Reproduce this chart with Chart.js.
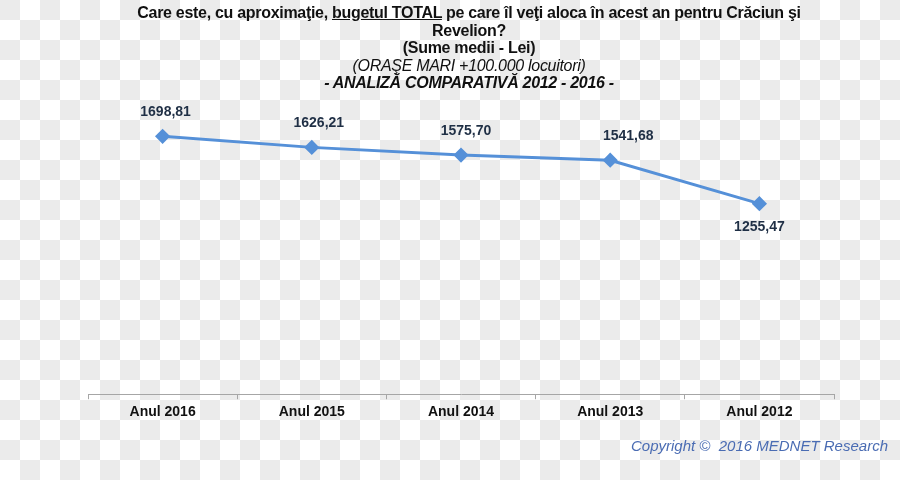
<!DOCTYPE html>
<html>
<head>
<meta charset="utf-8">
<script src="https://cdn.jsdelivr.net/npm/chart.js@4/dist/chart.umd.min.js"></script>
<style>
  html, body {
    margin: 0;
    padding: 0;
  }
  body {
    width: 900px;
    height: 480px;
    position: relative;
    overflow: hidden;
    background-color: #ffffff;
    background-image:
      linear-gradient(45deg, #ebebeb 25%, transparent 25%, transparent 75%, #ebebeb 75%),
      linear-gradient(45deg, #ebebeb 25%, transparent 25%, transparent 75%, #ebebeb 75%);
    background-size: 40px 40px;
    background-position: 20px 0, 0 20px;
    font-family: "Liberation Sans", Arial, sans-serif;
  }
  #wrap {
    position: absolute;
    left: 0;
    top: 0;
    width: 900px;
    height: 480px;
  }
  .title {
    position: absolute;
    left: 0;
    top: 4px;
    width: 938px;
    text-align: center;
    font-family: "Liberation Sans Narrow", "Arial Narrow", "Liberation Sans", Arial, sans-serif;
    font-size: 16px;
    line-height: 17.5px;
    letter-spacing: -0.3px;
    color: #111;
  }
  .title .b { font-weight: bold; }
  .title .i { font-style: italic; }
  .title u { text-decoration: underline; }
  .copy {
    position: absolute;
    right: 12px;
    top: 437px;
    font-size: 15px;
    font-style: italic;
    color: #4a6cb3;
  }
</style>
</head>
<body>
<div id="wrap"><canvas id="budgetChart" width="900" height="480"></canvas></div>
<div class="title">
  <div class="b">Care este, cu aproximaţie, <u>bugetul TOTAL</u> pe care îl veţi aloca în acest an pentru Crăciun şi<br>Revelion?</div>
  <div class="b">(Sume medii - Lei)</div>
  <div class="i">(ORAŞE MARI +100.000 locuitori)</div>
  <div class="b i">- ANALIZĂ COMPARATIVĂ 2012 - 2016 -</div>
</div>
<div class="copy">Copyright &copy;&nbsp; 2016 MEDNET Research</div>

<script>
const years = ["Anul 2016", "Anul 2015", "Anul 2014", "Anul 2013", "Anul 2012"];
const budget = [1698.81, 1626.21, 1575.70, 1541.68, 1255.47];
const valueLabels = ["1698,81", "1626,21", "1575,70", "1541,68", "1255,47"];

// label placement, as in the original slide
const labelShiftX = [3, 7, 5, 18, 0];
const labelBelow = [false, false, false, false, true];

const pointLabels = {
    id: "pointLabels",
    afterDatasetsDraw(chart) {
        const ctx = chart.ctx;
        const meta = chart.getDatasetMeta(0);
        ctx.save();
        ctx.font = "bold 14px 'Liberation Sans', Arial, sans-serif";
        ctx.fillStyle = "#1f2f45";
        ctx.textAlign = "center";
        ctx.textBaseline = "middle";
        meta.data.forEach(function (pt, i) {
            const dy = labelBelow[i] ? 23 : -24;
            ctx.fillText(valueLabels[i], pt.x + labelShiftX[i], pt.y + dy);
        });
        ctx.restore();
    },
};

const ctx = document.getElementById("budgetChart").getContext("2d");

new Chart(ctx, {
    type: "line",
    data: {
        labels: years,
        datasets: [
            {
                data: budget,
                borderColor: "#5590d8",
                backgroundColor: "#5590d8",
                borderWidth: 3,
                pointStyle: "rectRot",
                pointRadius: 5.5,
                pointHoverRadius: 5.5,
                tension: 0,
            },
        ],
    },
    options: {
        responsive: false,
        animation: false,
        layout: {
            padding: { left: 88, right: 66, top: 121, bottom: 54 },
        },
        plugins: {
            legend: { display: false },
            tooltip: { enabled: false },
        },
        scales: {
            x: {
                offset: true,
                grid: {
                    offset: true,
                    drawOnChartArea: false,
                    tickLength: 5,
                    color: "#a6a6a6",
                },
                border: { color: "#a6a6a6" },
                ticks: {
                    color: "#111",
                    padding: 5,
                    font: { family: "'Liberation Sans', Arial, sans-serif", size: 14, weight: "bold" },
                },
            },
            y: {
                display: false,
                min: 0,
                max: 1800,
            },
        },
    },
    plugins: [pointLabels],
});
</script>
</body>
</html>
